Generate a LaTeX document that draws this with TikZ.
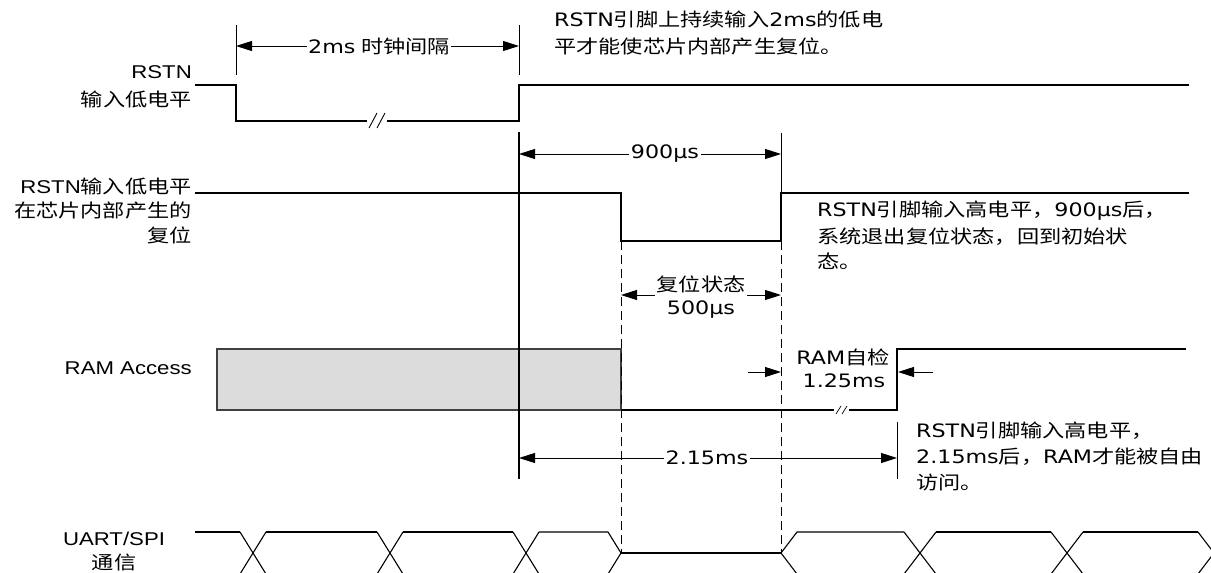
\documentclass[tikz,border=0pt]{standalone}
\usepackage{fontspec}
\usetikzlibrary{arrows.meta}
\newfontfamily\cjkf[FakeStretch=1.2]{Noto Sans CJK SC}
\newfontfamily\vdf[FakeStretch=1.2]{DejaVu Sans}
\newfontfamily\arf[FakeStretch=1.2]{Liberation Sans}
\newcommand\zhs[1]{{\cjkf #1}}
\newcommand\vds[1]{{\vdf #1}}
\newcommand\ars[1]{{\arf #1}}
\definecolor{boxgray}{HTML}{DCDCDC}
\definecolor{edgegray}{HTML}{404040}
\tikzset{
  sig/.style={line width=1.1pt, line join=miter, black},
  dim/.style={line width=0.9pt, black},
  tipT/.tip={Triangle[length=16pt,width=10pt]},
  arr/.style={dim, -tipT},
  darr/.style={dim, tipT-tipT},
  dsh/.style={line width=0.9pt, black, dash pattern=on 9pt off 5pt},
  lbl/.style={inner sep=0pt, font=\fontsize{18.5}{24.5}\selectfont},
  dimlbl/.style={lbl, fill=white, inner xsep=1.5pt, inner ysep=1pt},
}
\begin{document}
\begin{tikzpicture}[x=1pt,y=-1pt]
\clip (0,0) rectangle (1211,573);
\fill[white] (0,0) rectangle (1211,573);

% ---------- left labels ----------
\node[lbl, anchor=east] (la1) at (192,72) {\ars{RSTN}};
\node[lbl, anchor=east] (la2) at (192,99) {\zhs{输入低电平}};
\node[lbl, anchor=east] (lb1) at (192,186) {\ars{RSTN}\zhs{输入低电平}};
\node[lbl, anchor=east] (lb2) at (192,210) {\zhs{在芯片内部产生的}};
\node[lbl, anchor=east] (lb3) at (192,235) {\zhs{复位}};
\node[lbl, anchor=east] (lc1) at (192,368) {\ars{RAM Access}};
\node[lbl] (ld1) at (114,539) {\ars{UART/SPI}};
\node[lbl] (ld2) at (114,562) {\zhs{通信}};

% ---------- RAM access box (drawn first) ----------
\coordinate (b0) at (217,349);
\coordinate (b1) at (621,410);
\draw[line width=1.1pt, draw=edgegray, fill=boxgray] (b0) rectangle (b1);

% ---------- RSTN input ----------
\coordinate (r0) at (195,85);
\coordinate (r1) at (236,85);
\coordinate (r2) at (236,121);
\coordinate (r2b) at (367,121);
\coordinate (r3a) at (387,121);
\coordinate (r3) at (519,121);
\coordinate (r4) at (519,85);
\coordinate (r5) at (1189,85);
\draw[sig] (r0) -- (r1) -- (r2) -- (r2b);
\draw[sig] (r3a) -- (r3) -- (r4) -- (r5);
\draw[dim] (369,128) -- (377,113);
\draw[dim] (377,128) -- (385,113);

% ---------- internal reset ----------
\coordinate (s0) at (195,193);
\coordinate (s1) at (621,193);
\coordinate (s2) at (621,241);
\coordinate (s3) at (781,241);
\coordinate (s4) at (781,193);
\coordinate (s5) at (1189,193);
\draw[sig] (s0) -- (s1) -- (s2) -- (s3) -- (s4) -- (s5);

% ---------- RAM access after reset ----------
\coordinate (q0) at (621,410);
\coordinate (q0b) at (834,410);
\coordinate (q1a) at (849,410);
\coordinate (q1) at (897,410);
\coordinate (q2) at (897,349);
\coordinate (q3) at (1186,349);
\draw[sig] (q0) -- (q0b);
\draw[sig] (q1a) -- (q1) -- (q2) -- (q3);
\draw[dim, line width=0.7pt] (836,414) -- (841,406);
\draw[dim, line width=0.7pt] (842,414) -- (847,406);

% ---------- marker lines ----------
\coordinate (m1t) at (236,25);  \coordinate (m1b) at (236,75);
\coordinate (m2t) at (519,25);  \coordinate (m2b) at (519,75);
\coordinate (m3t) at (519,132); \coordinate (m3b) at (519,479);
\coordinate (m4t) at (781,133);
\coordinate (m5t) at (897,422); \coordinate (m5b) at (897,479);
\draw[dim] (m1t) -- (m1b);
\draw[dim] (m2t) -- (m2b);
\draw[sig] (m3t) -- (m3b);
\draw[dim] (m4t) -- (s4);
\draw[dim] (m5t) -- (m5b);

% dashed lines
\coordinate (d1b) at (621,553);
\coordinate (d2b) at (781,553);
\draw[dsh] (s2) -- (d1b);
\draw[dsh] (s3) -- (d2b);

% ---------- dimensions ----------
\coordinate (a1l) at (236,46); \coordinate (a1r) at (519,46);
\draw[darr] (a1l) -- (a1r);
\node[dimlbl] (t2ms) at (379,46) {\vds{2ms} \zhs{时钟间隔}};

\coordinate (a2l) at (519,154); \coordinate (a2r) at (781,154);
\draw[darr] (a2l) -- (a2r);
\node[dimlbl] (t900) at (665,154) {\vds{900µs}};

\coordinate (a3l) at (621,295); \coordinate (a3r) at (781,295);
\draw[darr] (a3l) -- (a3r);
\node[dimlbl, align=center] (t500) at (701,297) {\zhs{复位状态}\\[-1pt]\vds{500µs}};

\coordinate (a4l) at (519,458); \coordinate (a4r) at (897,458);
\draw[darr] (a4l) -- (a4r);
\node[dimlbl] (t215) at (707,458) {\vds{2.15ms}};

\coordinate (a5s) at (748,372); \coordinate (a5e) at (781,372);
\coordinate (a6s) at (933,372); \coordinate (a6e) at (898,372);
\draw[arr] (a5s) -- (a5e);
\draw[arr] (a6s) -- (a6e);
\node[lbl] (tram1) at (843,357) {\vds{RAM}\zhs{自检}};
\node[lbl] (tram2) at (844,381) {\vds{1.25ms}};

% ---------- notes ----------
\node[lbl, anchor=west] (n1a) at (554,19) {\vds{RSTN}\zhs{引脚上持续输入}\vds{2ms}\zhs{的低电}};
\node[lbl, anchor=west] (n1b) at (554,46) {\zhs{平才能使芯片内部产生复位。}};
\node[lbl, anchor=west] (n2a) at (817,211) {\vds{RSTN}\zhs{引脚输入高电平，}\vds{900µs}\zhs{后，}};
\node[lbl, anchor=west] (n2b) at (817,237) {\zhs{系统退出复位状态，回到初始状}};
\node[lbl, anchor=west] (n2c) at (817,261) {\zhs{态。}};
\node[lbl, anchor=west] (n3a) at (916,431) {\vds{RSTN}\zhs{引脚输入高电平，}};
\node[lbl, anchor=west] (n3b) at (916,457) {\vds{2.15ms}\zhs{后，}\vds{RAM}\zhs{才能被自由}};
\node[lbl, anchor=west] (n3c) at (916,483) {\zhs{访问。}};

% ---------- UART / SPI ----------
\def\uT{532}\def\uM{553}\def\uB{574}
% left part
\draw[sig] (195,\uT) -- (240,\uT);
\draw[sig] (266,\uT) -- (377,\uT);
\draw[sig] (403,\uT) -- (513,\uT);
\draw[sig] (539,\uT) -- (608,\uT) -- (621,\uM) -- (608,\uB);
\draw[sig] (195,\uB) -- (240,\uB);
\draw[sig] (266,\uB) -- (377,\uB);
\draw[sig] (403,\uB) -- (513,\uB);
\draw[sig] (539,\uB) -- (608,\uB);
\foreach \c in {253,390,526}{
  \draw[sig] (\c-13,\uT) -- (\c+13,\uB);
  \draw[sig] (\c-13,\uB) -- (\c+13,\uT);
}
\draw[sig] (621,\uM) -- (781,\uM);
% right part
\draw[sig] (797,\uB) -- (781,\uM) -- (797,\uT) -- (904,\uT);
\draw[sig] (936,\uT) -- (1051,\uT);
\draw[sig] (1083,\uT) -- (1198,\uT);
\draw[sig] (797,\uB) -- (904,\uB);
\draw[sig] (936,\uB) -- (1051,\uB);
\draw[sig] (1083,\uB) -- (1198,\uB);
\foreach \c in {920,1067,1214}{
  \draw[sig] (\c-16,\uT) -- (\c+16,\uB);
  \draw[sig] (\c-16,\uB) -- (\c+16,\uT);
}
\end{tikzpicture}
\end{document}
